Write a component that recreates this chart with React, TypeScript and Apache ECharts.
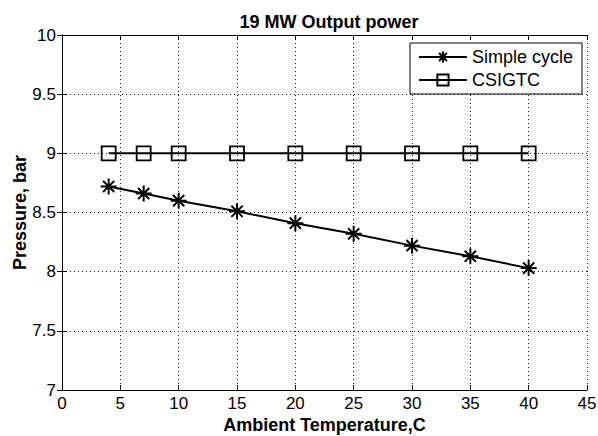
import React, { useEffect, useRef } from "react";
import * as echarts from "echarts";

const temps = [4, 7, 10, 15, 20, 25, 30, 35, 40];
const simpleCycle = [8.72, 8.66, 8.6, 8.51, 8.41, 8.32, 8.22, 8.13, 8.03];
const csigtc = [9, 9, 9, 9, 9, 9, 9, 9, 9];
const titleText = "19 MW Output power";
const xName = "Ambient Temperature,C";
const yName = "Pressure, bar";

const asterisk =
  "path://M10,0L10,20M0,10L20,10M3,3L17,17M3,17L17,3";

export default function App() {
  const ref = useRef<HTMLDivElement>(null);
  useEffect(() => {
    if (!ref.current) return;
    const chart = echarts.init(ref.current, null, { renderer: "svg" });
    const font = "'Liberation Sans', Arial, sans-serif";
    const axisLine = { show: true, lineStyle: { color: "#000", width: 1 } };
    const tick = { show: true, inside: true, length: 5, lineStyle: { color: "#000" } };
    const split = { show: true, lineStyle: { color: "#222", type: [1, 3], width: 1 } };
    chart.setOption({
      animation: false,
      backgroundColor: "#fff",
      textStyle: { fontFamily: font },
      title: {
        text: titleText,
        left: 324,
        textAlign: "center",
        top: 8,
        textStyle: { fontFamily: font, fontSize: 18, fontWeight: "bold", color: "#000" },
      },
      legend: {
        orient: "vertical",
        right: 16,
        top: 43,
        itemWidth: 48,
        itemHeight: 14,
        itemGap: 5,
        padding: [5, 9, 5, 8],
        borderColor: "#000",
        borderWidth: 1,
        backgroundColor: "#fff",
        borderRadius: 0,
        textStyle: { fontFamily: font, fontSize: 18, color: "#000" },
        data: ["Simple cycle", "CSIGTC"],
      },
      grid: { left: 62, right: 11, top: 35, bottom: 46, containLabel: false, outerBoundsMode: "none" },
      xAxis: [
        {
          type: "value",
          min: 0,
          max: 45,
          interval: 5,
          name: xName,
          nameLocation: "middle",
          nameGap: 26,
          nameMoveOverlap: false,
          nameTextStyle: { fontFamily: font, fontSize: 18, fontWeight: "bold", color: "#000" },
          axisLine,
          axisTick: tick,
          splitLine: split,
          axisLabel: { fontFamily: font, fontSize: 17, color: "#000", margin: 5 },
        },
        {
          type: "value",
          position: "top",
          min: 0,
          max: 45,
          interval: 5,
          axisLine,
          axisTick: tick,
          splitLine: { show: false },
          axisLabel: { show: false },
        },
      ],
      yAxis: [
        {
          type: "value",
          min: 7,
          max: 10,
          interval: 0.5,
          name: yName,
          nameLocation: "middle",
          nameGap: 33,
          nameMoveOverlap: false,
          nameTextStyle: { fontFamily: font, fontSize: 18, fontWeight: "bold", color: "#000" },
          axisLine,
          axisTick: tick,
          splitLine: split,
          axisLabel: { fontFamily: font, fontSize: 17, color: "#000", margin: 6 },
        },
        {
          type: "value",
          position: "right",
          min: 7,
          max: 10,
          interval: 0.5,
          axisLine,
          axisTick: tick,
          splitLine: { show: false },
          axisLabel: { show: false },
        },
      ],
      series: [
        {
          name: "Simple cycle",
          type: "line",
          data: temps.map((t, i) => [t, simpleCycle[i]]),
          symbol: asterisk,
          symbolSize: 16,
          showAllSymbol: true,
          lineStyle: { color: "#000", width: 2 },
          itemStyle: { color: "none", borderColor: "#000", borderWidth: 2 },
        },
        {
          name: "CSIGTC",
          type: "line",
          data: temps.map((t, i) => [t, csigtc[i]]),
          symbol: "rect",
          symbolSize: 14,
          showAllSymbol: true,
          lineStyle: { color: "#000", width: 2 },
          itemStyle: { color: "none", borderColor: "#000", borderWidth: 1.8 },
        },
      ],
    });
    return () => chart.dispose();
  }, []);
  return <div ref={ref} style={{ width: 598, height: 436, position: "absolute", left: 0, top: 0 }} />;
}
